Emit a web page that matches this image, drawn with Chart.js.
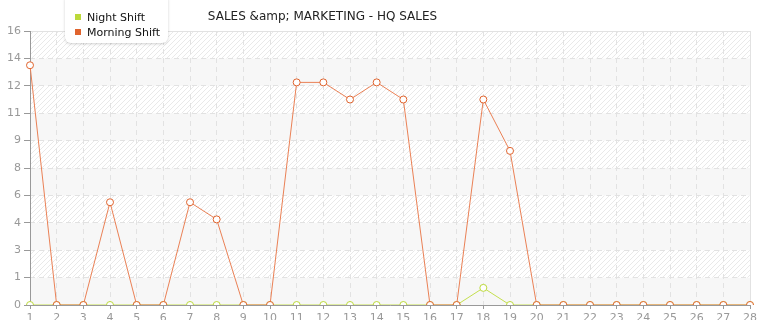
<html>
<head>
<title>Sales &amp; Marketing - HQ Sales</title>
<style>
  body { margin: 0; background: #fff; }
  #wrap { position: relative; width: 765px; height: 320px; }
  #title { position: absolute; left: 150px; width: 345px; top: 9px; text-align: center;
           font: 12px "DejaVu Sans", Verdana, sans-serif; color: #222; }
  #legend { position: absolute; left: 65px; top: -6px; width: 103px; height: 49px;
            background: #fff; border-radius: 6px; box-shadow: 0 1px 3px rgba(0,0,0,0.18);
            font: 11px "DejaVu Sans", Verdana, sans-serif; color: #111; }
  #legend div { position: absolute; left: 10px; white-space: nowrap; }
  #legend span { display: inline-block; width: 6px; height: 6px; margin-right: 6px; vertical-align: 1px; }
</style>
</head>

<body>
<script src="https://cdn.jsdelivr.net/npm/chart.js@4/dist/chart.umd.min.js"></script>

<div id="wrap">
  <canvas id="myChart" width="765" height="320"></canvas>
  <div id="title"></div>
  <div id="legend"></div>
</div>

<script type="text/javascript">
var chartTitle = "SALES &amp; MARKETING - HQ SALES";
var days = ["1","2","3","4","5","6","7","8","9","10","11","12","13","14","15","16","17","18","19","20","21","22","23","24","25","26","27","28"];
var nightShift = [0,0,0,0,0,0,0,0,0,0,0,0,0,0,0,0,0,1,0,0,0,0,0,0,0,0,0,0];
var morningShift = [14,0,0,6,0,0,6,5,0,0,13,13,12,13,12,0,0,12,9,0,0,0,0,0,0,0,0,0];
var seriesNames = ["Night Shift", "Morning Shift"];
var seriesColors = ["#bcd93a", "#e0642e"];
var lineColors = ["#c4df4e", "#ea8055"];

document.getElementById("title").textContent = chartTitle;
var leg = document.getElementById("legend");
for (var i = 0; i < seriesNames.length; i++) {
  var d = document.createElement("div");
  d.style.top = (17 + i * 15) + "px";
  d.innerHTML = '<span style="background:' + seriesColors[i] + '"></span>' + seriesNames[i];
  leg.appendChild(d);
}

// hatch pattern for the striped bands
function makeHatch() {
  var c = document.createElement("canvas");
  c.width = 5; c.height = 5;
  var g = c.getContext("2d");
  g.fillStyle = "#ffffff";
  g.fillRect(0, 0, 5, 5);
  g.strokeStyle = "#e9e9e9";
  g.lineWidth = 1;
  g.beginPath();
  g.moveTo(0, 5); g.lineTo(5, 0);
  g.moveTo(-1, 1); g.lineTo(1, -1);
  g.moveTo(4, 6); g.lineTo(6, 4);
  g.stroke();
  return g.createPattern(c, "repeat");
}

var bandsPlugin = {
  id: "bands",
  beforeDraw: function(chart) {
    var ctx = chart.ctx, a = chart.chartArea, y = chart.scales.y;
    var hatch = makeHatch();
    var ticks = y.ticks;
    for (var i = 0; i < ticks.length - 1; i++) {
      var top = y.getPixelForValue(ticks[i + 1].value);
      var bot = y.getPixelForValue(ticks[i].value);
      ctx.fillStyle = (i % 2 === 0) ? "#f7f7f7" : hatch;
      ctx.fillRect(a.left, top, a.right - a.left, bot - top);
    }
  },
  beforeDatasetsDraw: function(chart) {
    var ctx = chart.ctx, a = chart.chartArea;
    ctx.save();
    ctx.setLineDash([]);
    ctx.lineWidth = 1;
    ctx.strokeStyle = "#e2e2e2";
    ctx.beginPath();
    ctx.moveTo(a.left, a.top + 0.5); ctx.lineTo(a.right + 0.5, a.top + 0.5);
    ctx.moveTo(a.right + 0.5, a.top); ctx.lineTo(a.right + 0.5, a.bottom);
    ctx.stroke();
    ctx.strokeStyle = "#999";
    ctx.beginPath();
    ctx.moveTo(a.left + 0.5, a.top); ctx.lineTo(a.left + 0.5, a.bottom + 0.5);
    ctx.moveTo(a.left, a.bottom + 0.5); ctx.lineTo(a.right + 1, a.bottom + 0.5);
    ctx.stroke();
    ctx.restore();
  }
};

function ds(idx, values) {
  return {
    label: seriesNames[idx],
    data: values,
    borderColor: lineColors[idx],
    borderWidth: 1,
    pointRadius: 3.5,
    pointHoverRadius: 3.5,
    pointBackgroundColor: "#fff",
    pointBorderColor: seriesColors[idx],
    pointBorderWidth: 1,
    tension: 0,
    fill: false
  };
}

var ctx = document.getElementById("myChart").getContext("2d");
var myLineChart = new Chart(ctx, {
  type: "line",
  data: {
    labels: days,
    datasets: [ds(1, morningShift), ds(0, nightShift)]
  },
  options: {
    responsive: false,
    animation: false,
    events: [],
    layout: { padding: { top: 31, right: 15, left: 0, bottom: 0 } },
    plugins: { legend: { display: false }, title: { display: false }, tooltip: { enabled: false } },
    scales: {
      x: {
        offset: false,
        grid: { color: "#e2e2e2", tickColor: "#999", tickLength: 4, tickBorderDash: [] },
        border: { display: false, dash: [5, 4] },
        ticks: { color: "#999", font: { family: "DejaVu Sans", size: 11 }, padding: 3, maxRotation: 0, autoSkip: false },
        afterFit: function(s) { s.height = 15; }
      },
      y: {
        min: 0, max: 16,
        grid: { color: "#e2e2e2", tickColor: "#999", tickLength: 6, tickBorderDash: [] },
        border: { display: false, dash: [5, 4] },
        ticks: { stepSize: 1.6, color: "#999", font: { family: "DejaVu Sans", size: 11 }, padding: 3,
                 callback: function(v) { return Math.floor(v + 1e-9); } },
        afterFit: function(s) { s.width = 30; }
      }
    }
  },
  plugins: [bandsPlugin]
});
</script>
</body>
</html>
